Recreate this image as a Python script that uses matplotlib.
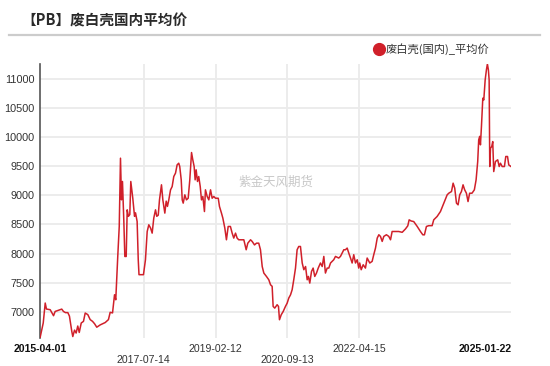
import matplotlib
matplotlib.use('Agg')
import matplotlib.pyplot as plt
import pandas as pd
from matplotlib.lines import Line2D

plt.rcParams['font.family'] = ['Liberation Sans', 'Noto Sans CJK SC']

# ---- data ----
start = '2015-04-01'
days = [0, 26, 42, 52, 82, 109, 122, 149, 175, 189, 205, 224, 237, 256, 264, 278, 291, 304, 316,
        332, 350, 364, 385, 404, 423, 439, 457, 485, 525, 551, 565, 584, 600, 610, 626, 638, 648,
        656, 664, 675, 683, 694, 702, 712, 723, 731, 747, 761, 769, 782, 791, 797, 833, 849, 863,
        876, 890, 903, 916, 930, 940, 952, 962, 978, 989, 1005, 1016, 1026, 1037, 1051, 1064, 1077,
        1091, 1104, 1117, 1125, 1137, 1145, 1153, 1166, 1179, 1193, 1206, 1220, 1230, 1241, 1249,
        1257, 1268, 1278, 1290, 1300, 1311, 1324, 1332, 1346, 1359, 1373, 1386, 1399, 1413, 1435,
        1445, 1461, 1472, 1488, 1501, 1515, 1533, 1547, 1560, 1574, 1587, 1600, 1641, 1660, 1673,
        1695, 1708, 1727, 1743, 1761, 1775, 1789, 1802, 1823, 1842, 1856, 1869, 1877, 1890, 1909,
        1920, 1928, 1942, 1958, 1976, 1990, 2003, 2017, 2030, 2043, 2057, 2070, 2083, 2097, 2111,
        2124, 2138, 2151, 2161, 2172, 2186, 2199, 2212, 2226, 2240, 2258, 2272, 2285, 2298, 2312,
        2325, 2339, 2365, 2379, 2405, 2419, 2433, 2446, 2459, 2473, 2486, 2500, 2513, 2526, 2540,
        2554, 2566, 2574, 2586, 2602, 2620, 2634, 2655, 2674, 2687, 2701, 2715, 2728, 2741, 2755,
        2768, 2789, 2808, 2822, 2835, 2862, 2888, 2916, 2942, 2961, 2972, 2988, 3009, 3037, 3063,
        3082, 3095, 3111, 3130, 3157, 3170, 3197, 3224, 3251, 3278, 3291, 3313, 3326, 3339, 3353,
        3366, 3379, 3393, 3406, 3419, 3433, 3446, 3459, 3478, 3497, 3511, 3524, 3532, 3540, 3546,
        3554, 3565, 3573, 3584, 3594, 3602, 3610, 3616, 3621, 3627, 3637, 3645, 3653, 3667, 3685,
        3697, 3707, 3721, 3739, 3750, 3764, 3774, 3792]
price = [6555, 6812, 7154, 7051, 7040, 6937, 7010, 7030, 7050, 7010, 6990, 6990, 6930, 6668, 6580,
         6690, 6640, 6760, 6650, 6812, 6840, 6983, 6955, 6870, 6840, 6800, 6740, 6780, 6820, 6870,
         6995, 6985, 7296, 7210, 7952, 8466, 9636, 8923, 9237, 8550, 7952, 7952, 8751, 8640, 8670,
         9237, 8950, 8640, 8700, 8551, 7895, 7640, 7640, 7895, 8380, 8495, 8440, 8352, 8610, 8751,
         8640, 8660, 8922, 9180, 8922, 8695, 8900, 8810, 8922, 9094, 9150, 9322, 9380, 9522, 9550,
         9494, 9265, 8922, 8866, 9008, 8922, 8950, 9265, 9733, 9610, 9494, 9265, 9437, 9237, 9322,
         9150, 8922, 8980, 8722, 9094, 8980, 8922, 9094, 8950, 8980, 8950, 8950, 8808, 8695, 8610,
         8438, 8238, 8466, 8466, 8352, 8267, 8352, 8267, 8238, 8238, 8067, 8180, 8238, 8210, 8150,
         8180, 8180, 8067, 7780, 7668, 7610, 7553, 7467, 7440, 7096, 7067, 7125, 7096, 6868, 6953,
         7010, 7096, 7153, 7240, 7295, 7382, 7553, 7753, 8067, 8123, 8123, 7840, 7725, 7780, 7553,
         7610, 7496, 7696, 7753, 7610, 7668, 7753, 7840, 7780, 7953, 7668, 7753, 7753, 7840, 7896,
         7953, 7925, 7953, 8010, 8067, 8067, 8096, 8010, 7925, 7840, 7982, 7840, 7896, 7753, 7840,
         7725, 7810, 7753, 7925, 7840, 7868, 7982, 8096, 8267, 8324, 8296, 8210, 8296, 8324, 8296,
         8238, 8380, 8380, 8380, 8366, 8423, 8477, 8580, 8560, 8550, 8466, 8380, 8323, 8323, 8466,
         8480, 8480, 8580, 8637, 8722, 8866, 9008, 9036, 9065, 9208, 9122, 8866, 8837, 9008, 9065,
         9180, 9094, 9036, 8893, 9036, 9036, 9094, 9265, 9580, 9950, 10010, 9865, 10177, 10664,
         10635, 10977, 11148, 11250, 11148, 10977, 9493, 9808, 9836, 9921, 9407, 9580, 9608, 9493,
         9550, 9493, 9493, 9665, 9665, 9521, 9493]

grid_dates = ['2017-07-14', '2019-02-12', '2020-09-13', '2022-04-15']
row1_labels = ['2015-04-01', '2019-02-12', '2022-04-15', '2025-01-22']
row2_labels = ['2017-07-14', '2020-09-13']
bold_labels = ['2015-04-01', '2025-01-22']
yticks = [7000, 7500, 8000, 8500, 9000, 9500, 10000, 10500, 11000]

red = '#d0202a'

dates = pd.to_datetime(start) + pd.to_timedelta(days, unit='D')

fig = plt.figure(figsize=(5.5, 3.66), dpi=100)
ax = fig.add_axes([40 / 550, 1 - 338 / 366, 471 / 550, 274 / 366])

ax.plot(dates, price, color=red, lw=1.1, zorder=3)
ax.set_xlim(dates[0], dates[-1])
ax.set_ylim(min(price), max(price))

# grids
ax.set_yticks(yticks)
ax.yaxis.grid(True, color='#ebebeb', lw=1.3)
for d in grid_dates:
    ax.axvline(pd.to_datetime(d), color='#ebebeb', lw=1.3, zorder=0)
ax.set_axisbelow(True)

for s in ['top', 'right', 'bottom']:
    ax.spines[s].set_visible(False)
ax.spines['left'].set_color('#555555')
ax.spines['left'].set_linewidth(1.2)
ax.tick_params(axis='y', length=0, labelsize=7.8, colors='#333333', pad=4)
ax.set_xticks([])

# two-row date labels
tr = ax.get_xaxis_transform()
for lab in row1_labels:
    w = 'bold' if lab in bold_labels else 'normal'
    c = '#111111' if lab in bold_labels else '#333333'
    ax.text(pd.to_datetime(lab), -0.040, lab, transform=tr, ha='center', va='center',
            fontsize=7.6, fontweight=w, color=c)
for lab in row2_labels:
    ax.text(pd.to_datetime(lab), -0.080, lab, transform=tr, ha='center', va='center',
            fontsize=7.6, color='#333333')

# title and separator
fig.text(21 / 550, 1 - 20 / 366, '【PB】废白壳国内平均价', ha='left', va='center',
         fontsize=10.5, fontweight='bold', color='#2a2a2a',
         family=['Noto Sans CJK SC', 'DejaVu Sans'])
fig.add_artist(Line2D([9 / 550, 540 / 550], [1 - 35 / 366, 1 - 35 / 366],
                      color='#cccccc', lw=1.6))

# legend
fig.add_artist(Line2D([379 / 550], [1 - 49 / 366], marker='o', ms=8.5, color=red, ls='None'))
fig.text(386 / 550, 1 - 49 / 366, '废白壳(国内)_平均价', ha='left', va='center',
         fontsize=8.1, color='#333333', family=['Noto Sans CJK SC', 'DejaVu Sans'])

# watermark
ax.text(0.5, 0.57, '紫金天风期货', transform=ax.transAxes, ha='center', va='center',
        fontsize=9, color='#c8c8c8', family=['Noto Sans CJK SC', 'DejaVu Sans'])

plt.savefig('out.png', dpi=100)
